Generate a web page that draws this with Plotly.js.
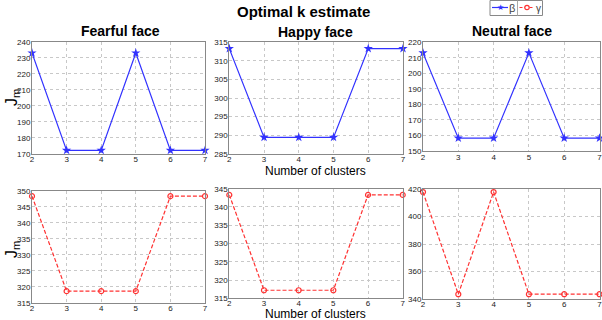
<!DOCTYPE html>
<html>
<head>
<meta charset="utf-8">
<script src="https://cdn.plot.ly/plotly-3.0.1.min.js"></script>
<style>html,body{margin:0;padding:0;background:#fff;}#chart{width:602px;height:320px;}</style>
</head>
<body>
<div id="chart"></div>
<script>
// ---- data ----
const clusters = [2, 3, 4, 5, 6, 7];
const xTicks = [2, 3, 4, 5, 6, 7];
const fearfulBeta  = [233.1, 172.1, 172.1, 233.1, 172.1, 172.1];
const happyBeta    = [313.3, 289.4, 289.4, 289.4, 313.3, 313.3];
const neutralBeta  = [213.2, 158.3, 158.3, 213.2, 158.3, 158.3];
const fearfulGamma = [348.3, 318.6, 318.6, 318.6, 348.3, 348.3];
const happyGamma   = [343.3, 317.2, 317.2, 317.2, 343.3, 343.3];
const neutralGamma = [418.0, 343.3, 418.0, 343.3, 343.3, 343.3];
const panelTitles = ["Fearful face", "Happy face", "Neutral face"];
const seriesNames = ["β", "γ"];
const yRanges = [[170, 240], [285, 315], [150, 220], [315, 350], [315, 345], [340, 420]];
const yDticks = [10, 5, 10, 5, 5, 20];

// ---- layout geometry (pixels) ----
const W = 602, H = 320;
const boxes = [
  [32, 205, 42, 153.7],
  [229.3, 403, 42.3, 153.7],
  [423, 599.5, 42.3, 151],
  [32, 205, 190.7, 302.7],
  [229.3, 402.7, 188.7, 298.3],
  [423, 599.5, 189.3, 298.7]
];
const blue = "rgb(50,50,255)";
const red = "rgb(255,50,50)";
const seriesY = [fearfulBeta, happyBeta, neutralBeta, fearfulGamma, happyGamma, neutralGamma];
const px = v => v / W, py = v => 1 - v / H;

const traces = [];
const layout = {
  width: W, height: H,
  margin: {l: 0, r: 0, t: 0, b: 0},
  paper_bgcolor: "#fff", plot_bgcolor: "#fff",
  font: {family: "Liberation Sans, Arial, sans-serif", color: "#000"},
  showlegend: false,
  annotations: [],
  shapes: []
};

for (let i = 0; i < 6; i++) {
  const isBeta = i < 3;
  const xa = i === 0 ? "x" : "x" + (i + 1);
  const ya = i === 0 ? "y" : "y" + (i + 1);
  traces.push({
    x: clusters, y: seriesY[i], xaxis: xa, yaxis: ya,
    type: "scatter", mode: "lines+markers",
    name: isBeta ? seriesNames[0] : seriesNames[1],
    line: {color: isBeta ? blue : red, width: 1.2, dash: isBeta ? "solid" : "4px,2px"},
    marker: isBeta ? {symbol: "star", size: 7, color: blue}
                   : {symbol: "circle-open", size: 5, color: red, line: {width: 1.2, color: red}},
    cliponaxis: false
  });
  const b = boxes[i];
  const axCommon = {
    showline: true, mirror: true, linecolor: "#888", linewidth: 1,
    showgrid: true, gridcolor: "#c8c8c8", griddash: "dot", gridwidth: 1,
    zeroline: false, ticks: "", ticklen: 0, ticklabeloverflow: "allow",
    tickfont: {size: 8, color: "#222", family: "Liberation Sans, Arial, sans-serif"},
    fixedrange: true
  };
  layout[i === 0 ? "xaxis" : "xaxis" + (i + 1)] = Object.assign({}, axCommon, {
    domain: [px(b[0]), px(b[1])], anchor: ya,
    range: [2, 7], tickvals: xTicks, ticktext: xTicks.map(String),
    ticklabelstandoff: i === 4 ? -3 : -2
  });
  layout[i === 0 ? "yaxis" : "yaxis" + (i + 1)] = Object.assign({}, axCommon, {
    domain: [py(b[3]), py(b[2])], anchor: xa,
    range: yRanges[i], dtick: yDticks[i], tick0: 0,
    ticklabelstandoff: -1
  });
}

const ann = layout.annotations;
ann.push({text: "<b>Optimal k estimate</b>", x: px(303), y: py(12), xref: "paper", yref: "paper",
  showarrow: false, font: {size: 15}, xanchor: "center", yanchor: "middle"});
const titleX = [120, 315, 511.7], titleY = [30.7, 31.7, 30.5];
for (let j = 0; j < 3; j++) {
  ann.push({text: "<b>" + panelTitles[j] + "</b>", x: px(titleX[j]), y: py(titleY[j]),
    xref: "paper", yref: "paper", showarrow: false, font: {size: 14}, xanchor: "center", yanchor: "middle"});
}
ann.push({text: "Number of clusters", x: px(315), y: py(170.5), xref: "paper", yref: "paper",
  showarrow: false, font: {size: 12}, xanchor: "center", yanchor: "middle", borderpad: 0});
ann.push({text: "Number of clusters", x: px(315), y: py(314), xref: "paper", yref: "paper",
  showarrow: false, font: {size: 12}, xanchor: "center", yanchor: "middle", borderpad: 0});
[98, 250].forEach(function (p) {
  ann.push({text: "J<sub>m</sub>", x: px(12), y: py(p), xref: "paper", yref: "paper",
    showarrow: false, font: {size: 16}, textangle: -90, xanchor: "center", yanchor: "middle"});
});

// ---- legend (drawn as a small key box) ----
const sh = layout.shapes;
sh.push({type: "rect", xref: "paper", yref: "paper", x0: px(490), x1: px(542.5), y0: py(15.5), y1: py(0.5),
  line: {color: "#888", width: 1}, fillcolor: "#fff"});
sh.push({type: "line", xref: "paper", yref: "paper", x0: px(517.5), x1: px(517.5), y0: py(15.5), y1: py(0.5),
  line: {color: "#aaa", width: 1}});
sh.push({type: "line", xref: "paper", yref: "paper", x0: px(492), x1: px(508), y0: py(7.5), y1: py(7.5),
  line: {color: blue, width: 1.2}});
sh.push({type: "line", xref: "paper", yref: "paper", x0: px(519.5), x1: px(534), y0: py(7.5), y1: py(7.5),
  line: {color: red, width: 1.2, dash: "3px,2px"}});
sh.push({type: "circle", xref: "paper", yref: "paper", x0: px(524.8), x1: px(529.2), y0: py(9.7), y1: py(5.3),
  line: {color: red, width: 1.2}, fillcolor: "#fff"});
ann.push({text: "★", x: px(500), y: py(7.5), xref: "paper", yref: "paper", showarrow: false,
  font: {size: 8, color: blue}, xanchor: "center", yanchor: "middle", borderpad: 0});
ann.push({text: seriesNames[0], x: px(512), y: py(8), xref: "paper", yref: "paper", showarrow: false,
  font: {size: 11, color: "#444"}, xanchor: "center", yanchor: "middle", borderpad: 0});
ann.push({text: seriesNames[1], x: px(538.5), y: py(8), xref: "paper", yref: "paper", showarrow: false,
  font: {size: 10, color: "#444"}, xanchor: "center", yanchor: "middle", borderpad: 0});

Plotly.newPlot("chart", traces, layout, {displayModeBar: false, staticPlot: true});
</script>
</body>
</html>
